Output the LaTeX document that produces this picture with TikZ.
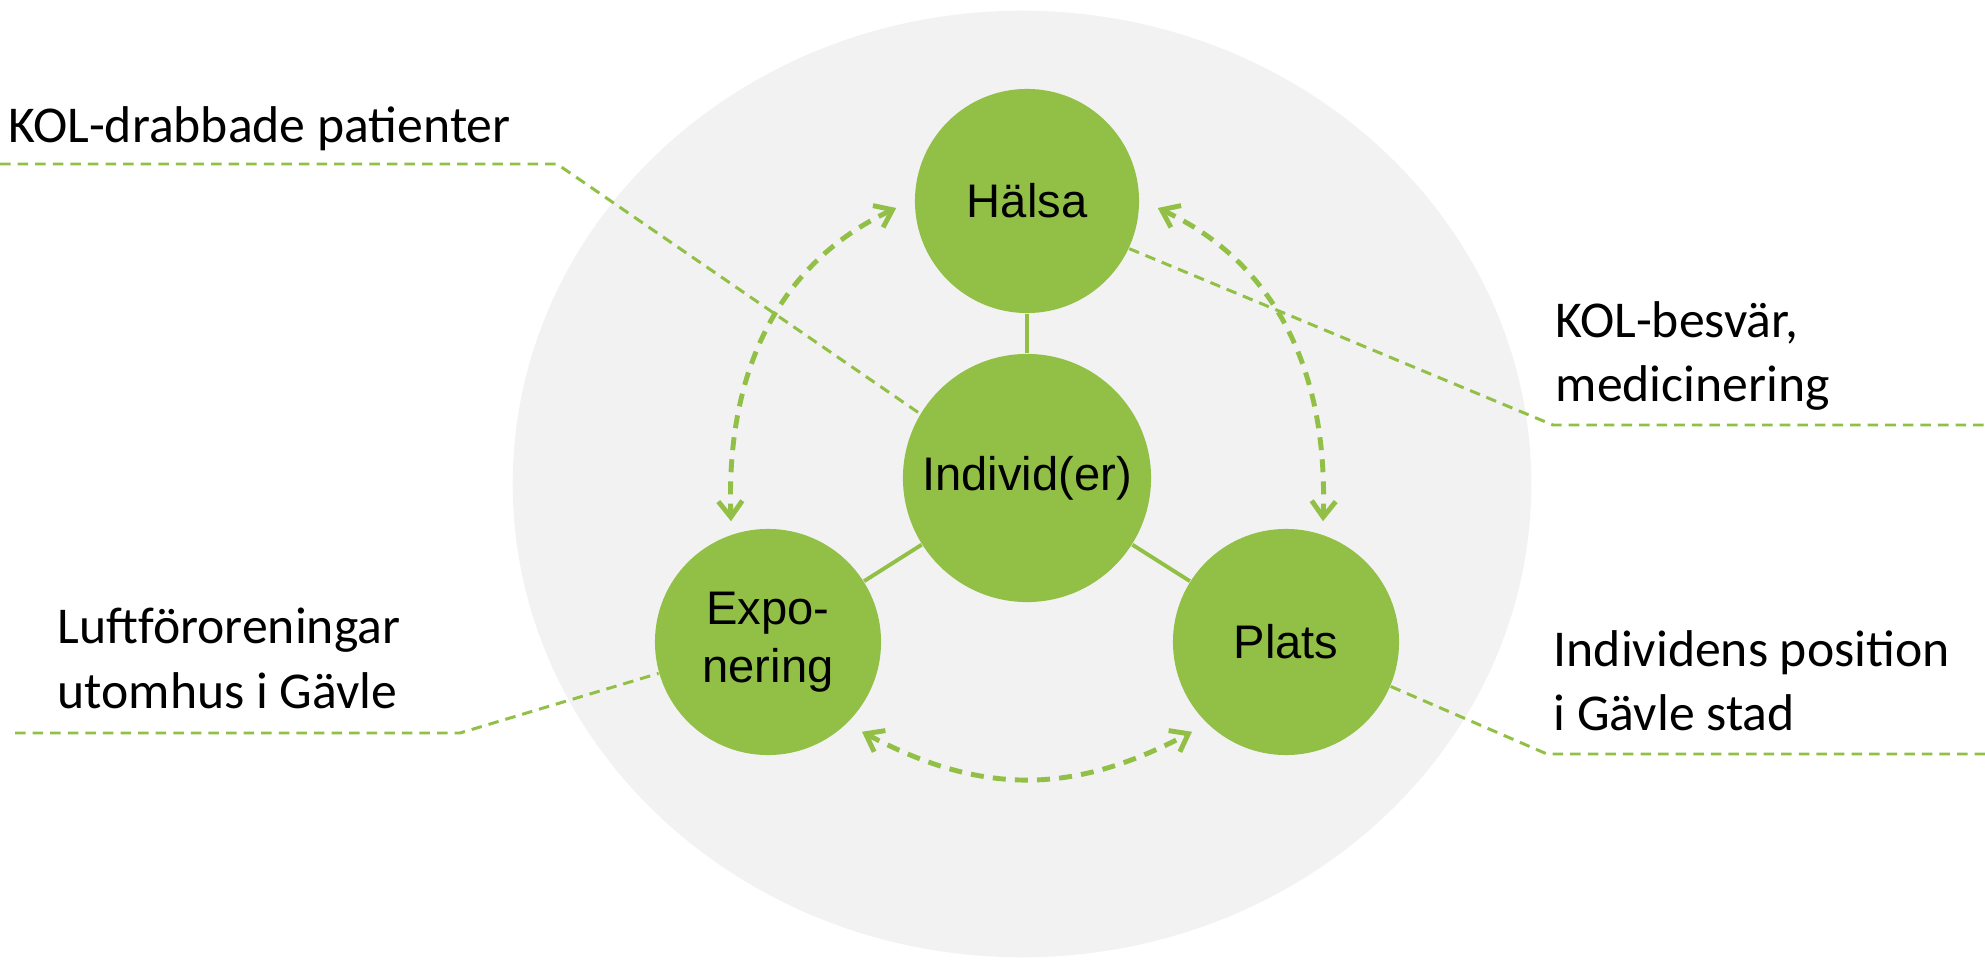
\documentclass[tikz,border=0pt]{standalone}
\usepackage{fontspec}
\setmainfont{Carlito}
\newfontfamily\arialfont{Liberation Sans}
\usetikzlibrary{arrows.meta,calc}
\definecolor{kolgreen}{RGB}{146,192,70}
\definecolor{bggrey}{RGB}{242,242,242}

\begin{document}
\begin{tikzpicture}[x=0.01cm,y=-0.01cm,
  circ/.style={circle,fill=kolgreen,inner sep=0pt,align=center,
    font=\arialfont\fontsize{13.4pt}{16.5pt}\selectfont},
  link/.style={kolgreen,line width=1.1pt},
  flow/.style={kolgreen,line width=1.4pt,dash pattern=on 3.7pt off 2.6pt,
    {Straight Barb[length=1.6mm,width=2.4mm]}-{Straight Barb[length=1.6mm,width=2.4mm]}},
  callout/.style={kolgreen,line width=0.85pt,dash pattern=on 3pt off 2pt},
  note/.style={anchor=base west,inner sep=0pt,align=left,
    font=\fontsize{14.7pt}{18.2pt}\selectfont}]
  \useasboundingbox (0,0) rectangle (1985,961);

  % Background
  \fill[bggrey] (1022,484) ellipse (5.09cm and 4.73cm);

  % Circles
  \node[circ,minimum size=2.24cm] (halsa) at (1027,201) {Hälsa};
  \node[circ,minimum size=2.48cm] (individ) at (1027,478) {Individ(er)};
  \node[circ,minimum size=2.26cm] (expo) at (768,642) {Expo-\\nering};
  \node[circ,minimum size=2.26cm] (plats) at (1286,642) {Plats};

  \draw[link] (halsa) -- (individ);
  \draw[link] (individ) -- (expo);
  \draw[link] (individ) -- (plats);

  % Arrows
  \draw[flow] ($(halsa.west)+(-18,7)$) .. controls +(205:1.3cm) and +(92:1.5cm) .. ($(expo.north)+(-37,-7)$);
  \draw[flow] ($(halsa.east)+(18,7)$) .. controls +(335:1.3cm) and +(88:1.5cm) .. ($(plats.north)+(37,-7)$);
  \draw[flow] ($(expo.south)+(94,-24)$) .. controls +(-28:1.35cm) and +(208:1.35cm) .. ($(plats.south)+(-94,-24)$);

  % Labels (base = last line)
  \node[note] (patient) at (8,143) {KOL-drabbade patienter};
  \node[note] (besvar) at (1555,402) {KOL-besvär,\\medicinering};
  \node[note] (luft) at (57,708) {Luftföroreningar\\utomhus i Gävle};
  \node[note] (position) at (1553,730) {Individens position\\i Gävle stad};

  \coordinate (patientA) at (0,164);
  \coordinate (patientB) at (557,164);
  \coordinate (besvarA) at (1553,425);
  \coordinate (besvarB) at (1985,425);
  \coordinate (luftA) at (15,733);
  \coordinate (luftB) at (460,733);
  \coordinate (positionA) at (1547,754);
  \coordinate (positionB) at (1985,754);

  \draw[callout] (patientA) -- (patientB) -- (individ.149);
  \draw[callout] (halsa.-25) -- (besvarA) -- (besvarB);
  \draw[callout] (luftA) -- (luftB) -- (expo.196);
  \draw[callout] (plats.-23) -- (positionA) -- (positionB);
\end{tikzpicture}
\end{document}
